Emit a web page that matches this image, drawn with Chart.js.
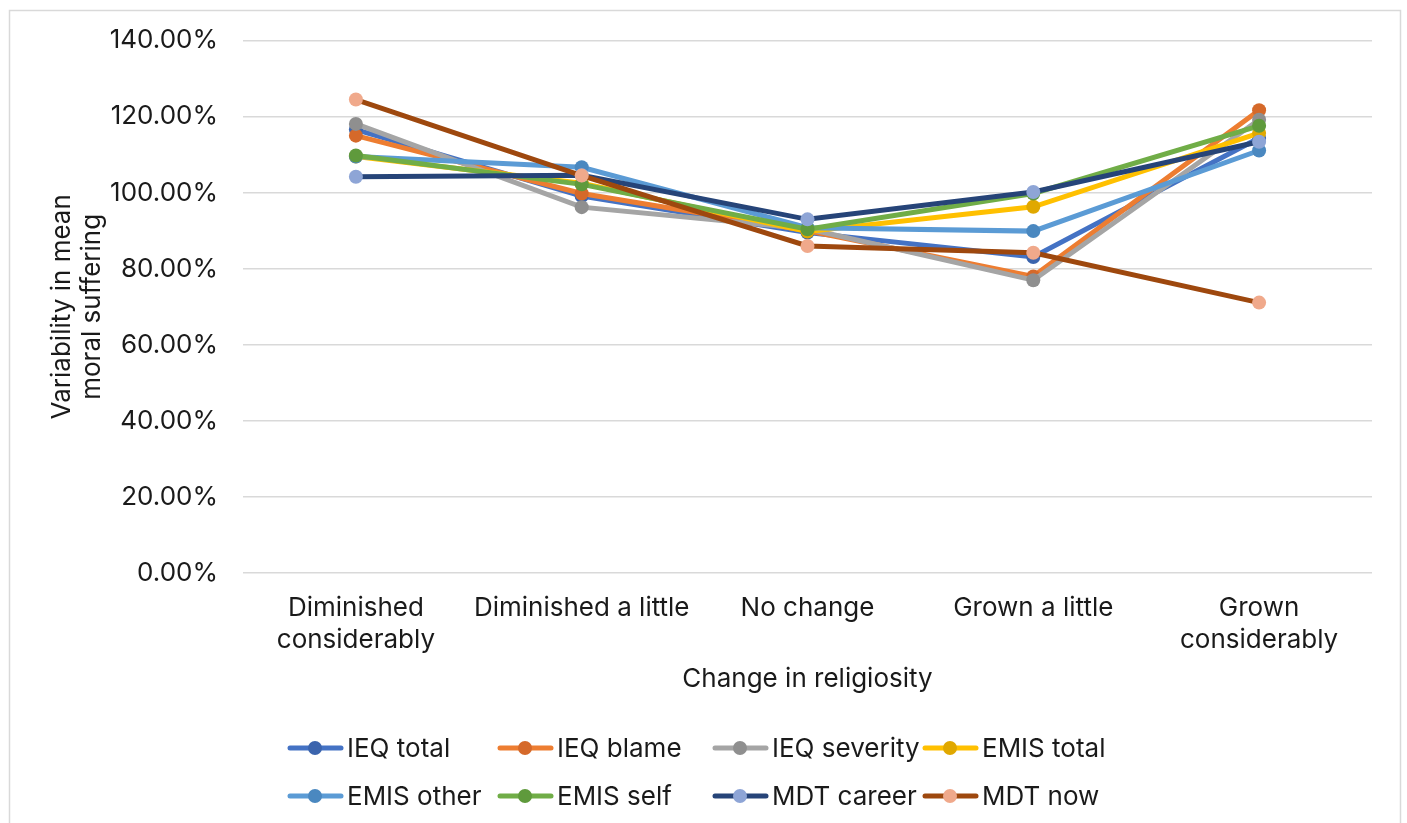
<!DOCTYPE html>
<html>
<head>
<meta charset="utf-8">
<script src="https://cdn.jsdelivr.net/npm/chart.js@4"></script>
<style>
    body { margin: 0; background: #fff; }
    #wrap { width: 1407px; height: 823px; }
</style>
</head>
<body>
<div id="wrap"><canvas id="religChart" width="1407" height="823"></canvas></div>
<script>
// categories on x axis
var categories = [
    ['Diminished', 'considerably'],
    'Diminished a little',
    'No change',
    'Grown a little',
    ['Grown', 'considerably']
];

// series values (percent)
var ieqTotal = [116.6, 99.1, 89.5, 83.1, 114.4];
var ieqBlame = [115.0, 99.8, 90.0, 78.0, 121.7];
var ieqSeverity = [118.1, 96.2, 90.5, 77.0, 119.2];
var emisTotal = [109.5, 102.5, 89.8, 96.3, 115.7];
var emisOther = [109.5, 106.7, 90.8, 89.9, 111.1];
var emisSelf = [109.8, 102.2, 90.4, 99.8, 117.6];
var mdtCareer = [104.2, 104.6, 93.0, 100.2, 113.4];
var mdtNow = [124.5, 104.5, 86.0, 84.2, 71.1];

var seriesNames = ['IEQ total', 'IEQ blame', 'IEQ severity', 'EMIS total', 'EMIS other', 'EMIS self', 'MDT career', 'MDT now'];
var seriesData = [ieqTotal, ieqBlame, ieqSeverity, emisTotal, emisOther, emisSelf, mdtCareer, mdtNow];

// y axis range
var yMin = 0;
var yMax = 140;
var yStep = 20;

// line colour and marker colour per series
var lineColors = ['#4472c4', '#ed7d31', '#a5a5a5', '#ffc000', '#5b9bd5', '#70ad47', '#264478', '#9e480e'];
var markerColors = ['#3b64ad', '#d5692a', '#8f8f8f', '#e0a800', '#4a88c0', '#5f9a3c', '#8ea5d6', '#f0a98b'];

var fontFamily = 'Inter, Roboto, sans-serif';
var fontSize = 26;
var textColor = '#1a1a1a';

// build datasets, later series drawn on top (lower order = on top)
var datasets = seriesNames.map(function (name, i) {
    return {
        label: name,
        data: seriesData[i],
        borderColor: lineColors[i],
        backgroundColor: markerColors[i],
        pointBackgroundColor: markerColors[i],
        pointBorderColor: markerColors[i],
        borderWidth: 5,
        pointRadius: 7,
        pointBorderWidth: 0,
        pointHoverRadius: 7,
        tension: 0,
        order: seriesNames.length - i
    };
});

// outer frame like the spreadsheet chart box
var framePlugin = {
    id: 'frame',
    beforeDraw: function (chart) {
        var ctx = chart.ctx;
        ctx.save();
        ctx.strokeStyle = '#d9d9d9';
        ctx.lineWidth = 1.5;
        ctx.strokeRect(9.5, 10.5, 1391, 900);
        ctx.restore();
    }
};

// legend laid out in fixed columns, two rows
var gridLegendPlugin = {
    id: 'gridLegend',
    afterDraw: function (chart) {
        var ctx = chart.ctx;
        var cols = [287, 497, 712, 922];
        var rows = [748, 796];
        ctx.save();
        ctx.font = fontSize + 'px ' + fontFamily;
        ctx.textBaseline = 'middle';
        ctx.textAlign = 'left';
        chart.data.datasets.forEach(function (ds, i) {
            var x = cols[i % 4];
            var y = rows[Math.floor(i / 4)];
            ctx.strokeStyle = ds.borderColor;
            ctx.lineWidth = 5;
            ctx.lineCap = 'round';
            ctx.beginPath();
            ctx.moveTo(x + 3, y);
            ctx.lineTo(x + 54, y);
            ctx.stroke();
            ctx.fillStyle = ds.pointBackgroundColor;
            ctx.beginPath();
            ctx.arc(x + 28, y, 7, 0, Math.PI * 2);
            ctx.fill();
            ctx.fillStyle = textColor;
            ctx.fillText(ds.label, x + 60, y + 1);
        });
        ctx.restore();
    }
};

const ctx = document.getElementById('religChart');

const config = {
    type: 'line',
    data: {
        labels: categories,
        datasets: datasets
    },
    options: {
        responsive: false,
        animation: false,
        layout: {
            padding: { left: 0, right: 35, top: 39, bottom: 125 }
        },
        plugins: {
            legend: { display: false },
            tooltip: { enabled: false }
        },
        scales: {
            x: {
                offset: true,
                grid: { display: false, drawTicks: false },
                border: { display: false },
                ticks: {
                    color: textColor,
                    font: { family: fontFamily, size: fontSize, lineHeight: 1.2 },
                    padding: 20,
                    maxRotation: 0,
                    autoSkip: false
                },
                title: {
                    display: true,
                    text: 'Change in religiosity',
                    color: textColor,
                    font: { family: fontFamily, size: fontSize, lineHeight: 1.2 },
                    padding: { top: 0, bottom: 3 }
                },
                afterFit: function (scale) {
                    scale.height = 125;
                }
            },
            y: {
                min: yMin,
                max: yMax,
                ticks: {
                    stepSize: yStep,
                    color: textColor,
                    font: { family: fontFamily, size: fontSize },
                    padding: 25,
                    callback: function (value) {
                        return value.toFixed(2) + '%';
                    }
                },
                grid: {
                    color: '#d9d9d9',
                    lineWidth: 1.5,
                    drawTicks: false
                },
                border: { display: false },
                title: {
                    display: true,
                    text: ['Variability in mean', 'moral suffering'],
                    color: textColor,
                    font: { family: fontFamily, size: fontSize, lineHeight: 1.15 },
                    padding: { top: 47, bottom: 0 }
                },
                afterFit: function (scale) {
                    scale.width = 243;
                }
            }
        }
    },
    plugins: [framePlugin, gridLegendPlugin]
};

var religChart = new Chart(ctx, config);
</script>
</body>
</html>
